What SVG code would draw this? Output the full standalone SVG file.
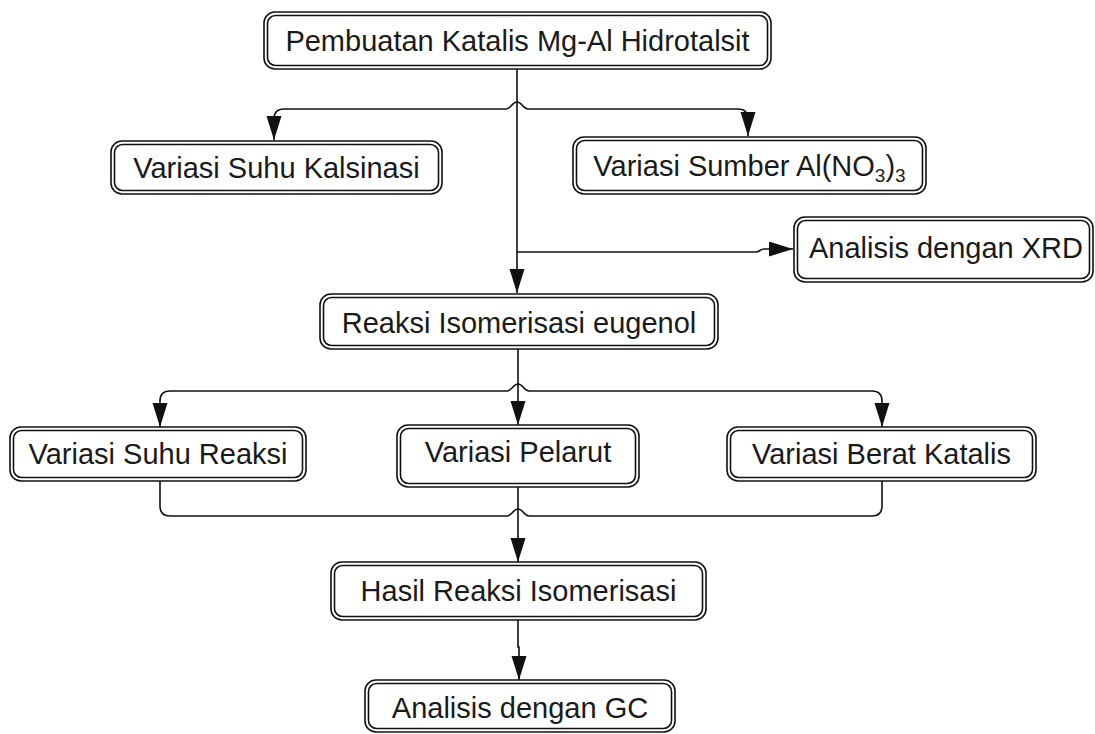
<svg xmlns="http://www.w3.org/2000/svg" width="1095" height="734" viewBox="0 0 1095 734">
<defs>
<style>
.o{fill:none;stroke:#111;stroke-width:1.6}
.i{fill:none;stroke:#111;stroke-width:1.6}
.t{font-family:"Liberation Sans",Arial,sans-serif;font-size:29px;fill:#1a1a1a;text-anchor:middle}
.c{fill:none;stroke:#111;stroke-width:1.6}
</style>
<marker id="ah" markerUnits="userSpaceOnUse" markerWidth="26" markerHeight="16" refX="24" refY="7.5" orient="auto">
<path d="M0,0 L24,7.5 L0,15 z" fill="#111"/>
</marker>
</defs>
<rect width="1095" height="734" fill="#fff"/>
<g id="connectors">
<path class="c" d="M517,69 V293" marker-end="url(#ah)"/>
<path class="c" d="M506,109 C511,109 512,102 517,102 C522,102 523,109 528,109"/>
<path class="c" d="M506,109 H284 Q274,109 274,119 V140" marker-end="url(#ah)"/>
<path class="c" d="M528,109 H738 Q748,109 748,119 V136" marker-end="url(#ah)"/>
<path class="c" d="M517,252 H756 C760,252 760,249 764,249 H793" marker-end="url(#ah)"/>
<path class="c" d="M518,349 V425" marker-end="url(#ah)"/>
<path class="c" d="M507,391 C512,391 513,384 518,384 C523,384 524,391 529,391"/>
<path class="c" d="M507,391 H170 Q160,391 160,401 V427" marker-end="url(#ah)"/>
<path class="c" d="M529,391 H872 Q882,391 882,401 V427" marker-end="url(#ah)"/>
<path class="c" d="M160,481 V506 Q160,516 170,516 H507 C512,516 513,509 518,509 C523,509 524,516 529,516 H872 Q882,516 882,506 V481"/>
<path class="c" d="M518,487 V562" marker-end="url(#ah)"/>
<path class="c" d="M518,620 V647 H519 V680" marker-end="url(#ah)"/>
</g>
<g id="n1">
<rect class="o" x="264" y="12" width="507" height="57" rx="11"/>
<rect class="i" x="267.5" y="15.5" width="500" height="50" rx="8"/>
<text class="t" x="517.5" y="51">Pembuatan Katalis Mg-Al Hidrotalsit</text>
</g>
<g id="n2">
<rect class="o" x="111" y="141" width="331" height="53" rx="11"/>
<rect class="i" x="114.5" y="144.5" width="324" height="46" rx="8"/>
<text class="t" x="276.5" y="178">Variasi Suhu Kalsinasi</text>
</g>
<g id="n3">
<rect class="o" x="573" y="137" width="353" height="57" rx="11"/>
<rect class="i" x="576.5" y="140.5" width="346" height="50" rx="8"/>
<text class="t" x="749.5" y="176">Variasi Sumber Al(NO<tspan font-size="19" dy="6">3</tspan><tspan dy="-6">)</tspan><tspan font-size="19" dy="6">3</tspan></text>
</g>
<g id="n4">
<rect class="o" x="794" y="217" width="299" height="65" rx="11"/>
<rect class="i" x="797.5" y="220.5" width="292" height="58" rx="8"/>
<text class="t" x="946" y="258">Analisis dengan XRD</text>
</g>
<g id="n5">
<rect class="o" x="320" y="294" width="398" height="55" rx="11"/>
<rect class="i" x="323.5" y="297.5" width="391" height="48" rx="8"/>
<text class="t" x="519" y="333">Reaksi Isomerisasi eugenol</text>
</g>
<g id="n6">
<rect class="o" x="10" y="427" width="296" height="54" rx="11"/>
<rect class="i" x="13.5" y="430.5" width="289" height="47" rx="8"/>
<text class="t" x="158" y="464">Variasi Suhu Reaksi</text>
</g>
<g id="n7">
<rect class="o" x="397" y="425" width="242" height="62" rx="11"/>
<rect class="i" x="400.5" y="428.5" width="235" height="55" rx="8"/>
<text class="t" x="518" y="462">Variasi Pelarut</text>
</g>
<g id="n8">
<rect class="o" x="727" y="427" width="309" height="54" rx="11"/>
<rect class="i" x="730.5" y="430.5" width="302" height="47" rx="8"/>
<text class="t" x="881.5" y="464">Variasi Berat Katalis</text>
</g>
<g id="n9">
<rect class="o" x="331" y="562" width="375" height="58" rx="11"/>
<rect class="i" x="334.5" y="565.5" width="368" height="51" rx="8"/>
<text class="t" x="518.5" y="601">Hasil Reaksi Isomerisasi</text>
</g>
<g id="n10">
<rect class="o" x="365" y="680" width="310" height="52" rx="11"/>
<rect class="i" x="368.5" y="683.5" width="303" height="45" rx="8"/>
<text class="t" x="520" y="718">Analisis dengan GC</text>
</g>
</svg>
